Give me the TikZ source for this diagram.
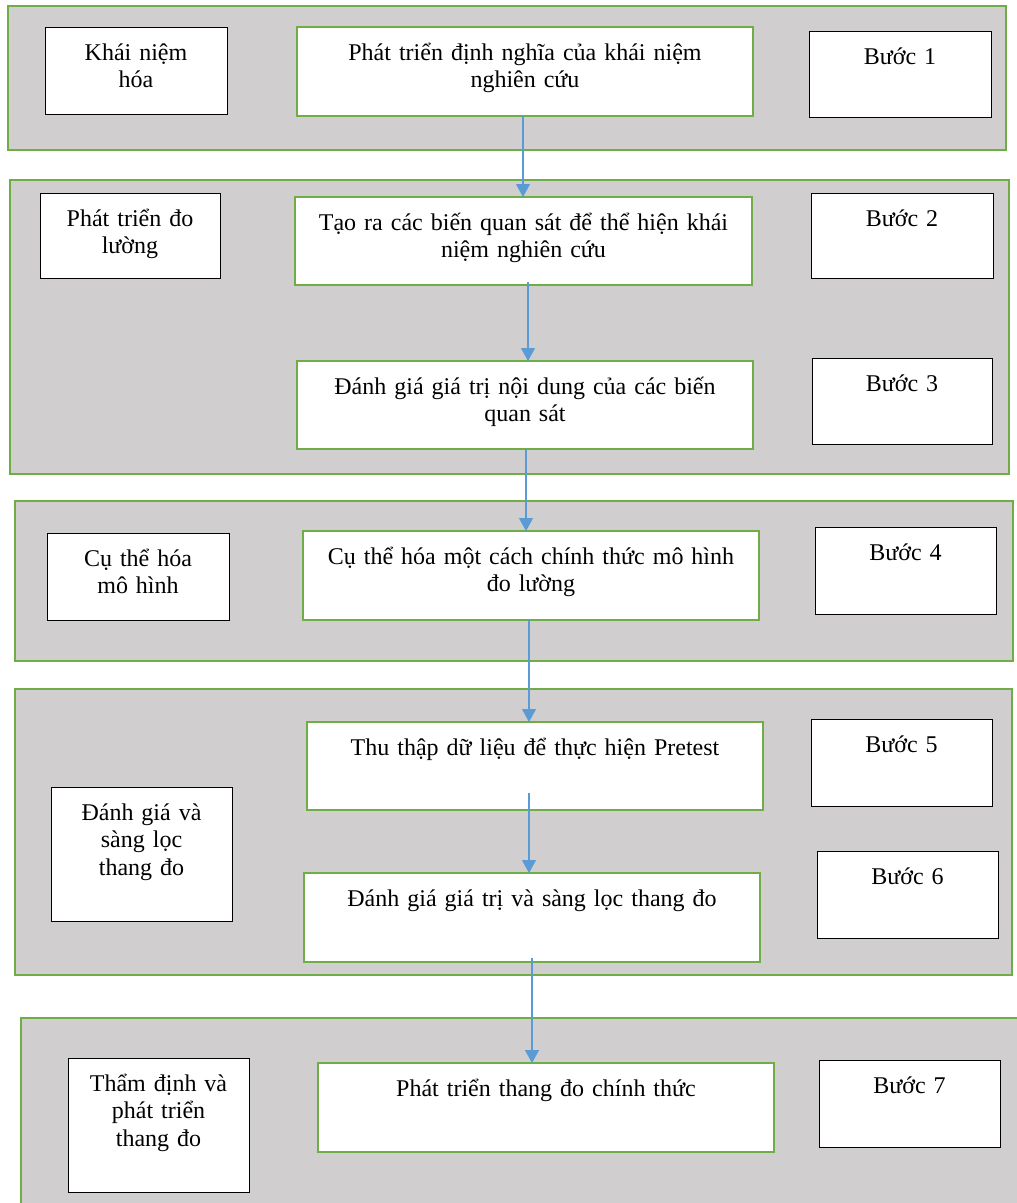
\documentclass[tikz,border=0pt]{standalone}
\usepackage{fontspec}
\setmainfont{Liberation Serif}
\usetikzlibrary{arrows.meta}

\definecolor{framegreen}{HTML}{70AD47}
\definecolor{panelgray}{HTML}{D0CECE}
\definecolor{flowblue}{HTML}{5B9BD5}
\newcommand\stepfont{\fontsize{24}{27.6}\selectfont}

\tikzset{
  panel/.style={draw=framegreen, line width=2.5pt, fill=panelgray,
    anchor=north west, inner sep=0pt, outer sep=0pt},
  sidebox/.style={draw=black, line width=1pt, fill=white,
    anchor=north west, inner sep=0pt, outer sep=0pt},
  stagebox/.style={draw=framegreen, line width=2.5pt, fill=white,
    anchor=north west, inner sep=0pt, outer sep=0pt},
  boxtext/.style={anchor=base, inner sep=0pt, align=center,
    font=\stepfont, text width=#1},
  flow/.style={draw=flowblue, line width=1.2pt,
    -{Triangle[width=14pt,length=13pt]}}
}

\begin{document}
\begin{tikzpicture}[x=1pt, y=-1pt]
\useasboundingbox (0,0) rectangle (1017,1203);
\clip (0,0) rectangle (1017,1203);

% grey stage panels
\node[panel, minimum width=998pt, minimum height=144pt] (p1) at (8,6) {};
\node[panel, minimum width=999pt, minimum height=294pt] (p2) at (10,180) {};
\node[panel, minimum width=998pt, minimum height=160pt] (p3) at (15,501) {};
\node[panel, minimum width=997pt, minimum height=286pt] (p4) at (15,689) {};
\node[panel, minimum width=1010pt, minimum height=220pt] (p5) at (21,1018) {};

% stage names (left column)
\node[sidebox, minimum width=182pt, minimum height=87pt] (a1) at (45,27) {};
\node[sidebox, minimum width=180pt, minimum height=85pt] (a2) at (40,193) {};
\node[sidebox, minimum width=182pt, minimum height=87pt] (a3) at (47,533) {};
\node[sidebox, minimum width=181pt, minimum height=134pt] (a4) at (51,787) {};
\node[sidebox, minimum width=181pt, minimum height=134pt] (a5) at (68,1058) {};

% process steps (middle column)
\node[stagebox, minimum width=456pt, minimum height=89pt] (b1) at (297,27) {};
\node[stagebox, minimum width=457pt, minimum height=88pt] (b2) at (295,197) {};
\node[stagebox, minimum width=456pt, minimum height=88pt] (b3) at (297,361) {};
\node[stagebox, minimum width=456pt, minimum height=89pt] (b4) at (303,531) {};
\node[stagebox, minimum width=456pt, minimum height=88pt] (b5) at (307,722) {};
\node[stagebox, minimum width=456pt, minimum height=89pt] (b6) at (304,873) {};
\node[stagebox, minimum width=456pt, minimum height=89pt] (b7) at (318,1063) {};

% step numbers (right column)
\node[sidebox, minimum width=182pt, minimum height=86pt] (c1) at (809,31) {};
\node[sidebox, minimum width=182pt, minimum height=85pt] (c2) at (811,193) {};
\node[sidebox, minimum width=180pt, minimum height=86pt] (c3) at (812,358) {};
\node[sidebox, minimum width=181pt, minimum height=87pt] (c4) at (815,527) {};
\node[sidebox, minimum width=181pt, minimum height=87pt] (c5) at (811,719) {};
\node[sidebox, minimum width=181pt, minimum height=87pt] (c6) at (817,851) {};
\node[sidebox, minimum width=181pt, minimum height=87pt] (c7) at (819,1060) {};

% texts, first baseline 33pt below each box top
\node[boxtext=170pt] (a1t) at ([yshift=-33pt]a1.north) {Khái niệm\\hóa};
\node[boxtext=170pt] (a2t) at ([yshift=-33pt]a2.north) {Phát triển đo\\lường};
\node[boxtext=170pt] (a3t) at ([yshift=-33pt]a3.north) {Cụ thể hóa\\mô hình};
\node[boxtext=170pt] (a4t) at ([yshift=-33pt]a4.north) {Đánh giá và\\sàng lọc\\thang đo};
\node[boxtext=170pt] (a5t) at ([yshift=-33pt]a5.north) {Thẩm định và\\phát triển\\thang đo};

\node[boxtext=440pt] (b1t) at ([yshift=-33pt]b1.north) {Phát triển định nghĩa của khái niệm\\nghiên cứu};
\node[boxtext=440pt] (b2t) at ([yshift=-33pt]b2.north) {Tạo ra các biến quan sát để thể hiện khái\\niệm nghiên cứu};
\node[boxtext=440pt] (b3t) at ([yshift=-33pt]b3.north) {Đánh giá giá trị nội dung của các biến\\quan sát};
\node[boxtext=440pt] (b4t) at ([yshift=-33pt]b4.north) {Cụ thể hóa một cách chính thức mô hình\\đo lường};
\node[boxtext=440pt] (b5t) at ([yshift=-33pt]b5.north) {Thu thập dữ liệu để thực hiện Pretest};
\node[boxtext=440pt] (b6t) at ([yshift=-33pt]b6.north) {Đánh giá giá trị và sàng lọc thang đo};
\node[boxtext=440pt] (b7t) at ([yshift=-33pt]b7.north) {Phát triển thang đo chính thức};

\node[boxtext=170pt] (c1t) at ([yshift=-33pt]c1.north) {Bước 1};
\node[boxtext=170pt] (c2t) at ([yshift=-33pt]c2.north) {Bước 2};
\node[boxtext=170pt] (c3t) at ([yshift=-33pt]c3.north) {Bước 3};
\node[boxtext=170pt] (c4t) at ([yshift=-33pt]c4.north) {Bước 4};
\node[boxtext=170pt] (c5t) at ([yshift=-33pt]c5.north) {Bước 5};
\node[boxtext=170pt] (c6t) at ([yshift=-33pt]c6.north) {Bước 6};
\node[boxtext=170pt] (c7t) at ([yshift=-33pt]c7.north) {Bước 7};

% flow arrows between the steps
\coordinate (f1) at ([xshift=-2pt]b1.south);
\coordinate (f2) at ([xshift=4.5pt, yshift=3pt]b2.south);
\coordinate (f3) at ([xshift=1pt]b3.south);
\coordinate (f4) at ([xshift=-2pt]b4.south);
\coordinate (f5) at ([xshift=-6pt, yshift=17pt]b5.south);
\coordinate (f6) at ([yshift=4pt]b6.south);
\draw[flow] (f1) -- (f1 |- b2.north);
\draw[flow] (f2) -- (f2 |- b3.north);
\draw[flow] (f3) -- (f3 |- b4.north);
\draw[flow] (f4) -- (f4 |- b5.north);
\draw[flow] (f5) -- (f5 |- b6.north);
\draw[flow] (f6) -- (f6 |- b7.north);
\end{tikzpicture}
\end{document}
